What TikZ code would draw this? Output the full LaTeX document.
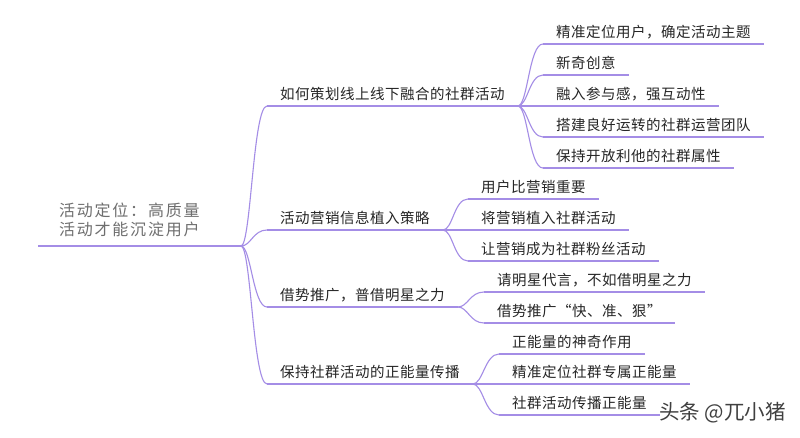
\documentclass[tikz,border=0pt]{standalone}
\usepackage{fontspec}
\setmainfont{Noto Sans CJK SC}
\newfontfamily\wmfont{Noto Sans CJK SC}
\definecolor{linec}{HTML}{A48DE6}
\definecolor{txtc}{HTML}{262626}
\definecolor{roottxt}{HTML}{6E6E6E}
\tikzset{
  x=1pt, y=-1pt,
  topic/.style={anchor=south west, inner xsep=13pt, inner ysep=0pt,
    text height=13pt, text depth=6.8pt, text=txtc,
    font=\fontsize{14.5}{17}\selectfont\addfontfeature{LetterSpace=3.4}},
  uline/.style={draw=linec, line width=1.1pt},
  link/.style={draw=linec, line width=1.1pt},
}
\newcommand{\under}[1]{\draw[uline] (#1.south west) -- (#1.south east);}
\newcommand{\conn}[2]{\draw[link] (#1) .. controls +(10,0) and +(-14,0) .. (#2.south west);}
\begin{document}
\begin{tikzpicture}
\useasboundingbox (0,0) rectangle (800,437);
\fill[white] (0,0) rectangle (800,437);
% root
\coordinate (rootL) at (38,246);
\coordinate (rootJ) at (241,246);
\node[anchor=base west, inner sep=0pt, align=left, text=roottxt,
  font=\fontsize{16}{19.5}\selectfont\addfontfeature{LetterSpace=11}] (root) at (59,235.5)
  {活动定位：高质量\\活动才能沉淀用户};
\draw[uline] (rootL) -- (rootJ);
% level 1
\node[topic] (a) at (267,106) {如何策划线上线下融合的社群活动};
\node[topic] (b) at (267,230) {活动营销信息植入策略};
\node[topic] (c) at (267,307) {借势推广，普借明星之力};
\node[topic] (d) at (267,384) {保持社群活动的正能量传播};
% level 2
\node[topic] (a1) at (543,44) {精准定位用户，确定活动主题};
\node[topic] (a2) at (543,75) {新奇创意};
\node[topic] (a3) at (543,106) {融入参与感，强互动性};
\node[topic] (a4) at (543,137) {搭建良好运转的社群运营团队};
\node[topic] (a5) at (543,168) {保持开放利他的社群属性};
\node[topic] (b1) at (468,199) {用户比营销重要};
\node[topic] (b2) at (468,230) {将营销植入社群活动};
\node[topic] (b3) at (468,261) {让营销成为社群粉丝活动};
\node[topic] (c1) at (484,292) {请明星代言，不如借明星之力};
\node[topic] (c2) at (484,323) {借势推广“快、准、狠”};
\node[topic] (d1) at (499,354) {正能量的神奇作用};
\node[topic] (d2) at (499,384) {精准定位社群专属正能量};
\node[topic] (d3) at (499,415) {社群活动传播正能量};
\foreach \n in {a,b,c,d,a1,a2,a3,a4,a5,b1,b2,b3,c1,c2,d1,d2,d3} {\under{\n}}
\foreach \n in {a,b,c,d} {\conn{rootJ}{\n}}
\foreach \n in {a1,a2,a3,a4,a5} {\conn{a.south east}{\n}}
\foreach \n in {b1,b2,b3} {\conn{b.south east}{\n}}
\foreach \n in {c1,c2} {\conn{c.south east}{\n}}
\foreach \n in {d1,d2,d3} {\conn{d.south east}{\n}}
% watermark
\node[anchor=west, inner sep=0pt, text=black!75, font=\wmfont\fontsize{20.5}{21}\selectfont] (wm) at (659,413) {头条 @兀小猪};
\end{tikzpicture}
\end{document}
